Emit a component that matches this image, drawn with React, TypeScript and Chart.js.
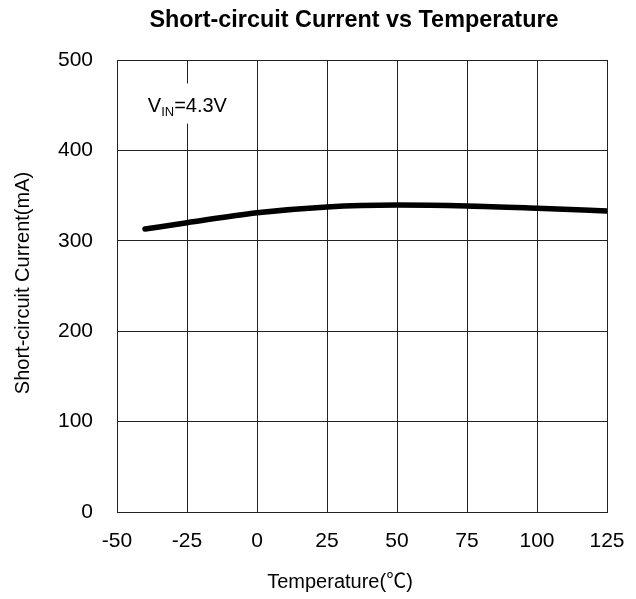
import React, { useEffect, useRef } from "react";
import { Chart, registerables } from "chart.js";

Chart.register(...registerables);

const temperatures = [-40, -25, 0, 25, 50, 75, 100, 125];
const currents = [313, 320, 331, 337.5, 339.5, 338.5, 336, 333];
const xTicks = [-50, -25, 0, 25, 50, 75, 100, 125];
const yTicks = [0, 100, 200, 300, 400, 500];

const TITLE = "Short-circuit Current vs Temperature";
const X_TITLE = "Temperature(\u2103)";
const Y_TITLE = "Short-circuit Current(mA)";
const NOTE_MAIN = "V";
const NOTE_SUB = "IN";
const NOTE_REST = "=4.3V";
const NOTE_AT = { x: -39, y: 443 };

const SANS = "'Liberation Sans', Arial, 'Noto Sans CJK SC', sans-serif";

const textPlugin = {
  id: "texts",
  afterDraw(chart: any) {
    const { ctx, chartArea, scales } = chart;
    const cx = (chartArea.left + chartArea.right) / 2;
    const cy = (chartArea.top + chartArea.bottom) / 2;
    ctx.save();
    ctx.fillStyle = "#000";
    // title
    ctx.save();
    ctx.font = "bold 24px " + SANS;
    ctx.textAlign = "center";
    ctx.textBaseline = "alphabetic";
    ctx.translate(cx - 8, chartArea.top - 33);
    ctx.scale(0.975, 1);
    ctx.fillText(TITLE, 0, 0);
    ctx.restore();
    // x title
    ctx.font = "20px " + SANS;
    ctx.textAlign = "center";
    ctx.textBaseline = "middle";
    ctx.fillText(X_TITLE, cx - 22, chartArea.bottom + 70);
    // y title
    ctx.save();
    ctx.translate(chartArea.left - 94, cy - 3);
    ctx.rotate(-Math.PI / 2);
    ctx.fillText(Y_TITLE, 0, 0);
    ctx.restore();
    // note
    const nx = scales.x.getPixelForValue(NOTE_AT.x);
    const ny = scales.y.getPixelForValue(NOTE_AT.y);
    ctx.font = "20px " + SANS;
    const w1 = ctx.measureText(NOTE_MAIN).width;
    ctx.font = "13px " + SANS;
    const w2 = ctx.measureText(NOTE_SUB).width;
    ctx.font = "20px " + SANS;
    const w3 = ctx.measureText(NOTE_REST).width;
    ctx.fillStyle = "#fff";
    ctx.fillRect(nx - 6, ny - 28, w1 + w2 + w3 + 12, 40);
    ctx.fillStyle = "#000";
    ctx.textAlign = "left";
    ctx.textBaseline = "alphabetic";
    ctx.fillText(NOTE_MAIN, nx, ny);
    ctx.font = "13px " + SANS;
    ctx.fillText(NOTE_SUB, nx + w1, ny + 4);
    ctx.font = "20px " + SANS;
    ctx.fillText(NOTE_REST, nx + w1 + w2, ny);
    ctx.restore();
  },
};

export default function App() {
  const ref = useRef<HTMLCanvasElement>(null);
  useEffect(() => {
    if (!ref.current) return;
    const chart = new Chart(ref.current, {
      type: "line",
      data: {
        datasets: [
          {
            data: temperatures.map((t, i) => ({ x: t, y: currents[i] })),
            borderColor: "#000",
            borderWidth: 5.5,
            borderCapStyle: "round",
            pointRadius: 0,
            cubicInterpolationMode: "monotone",
            fill: false,
          },
        ],
      },
      options: {
        animation: false,
        responsive: false,
        layout: { padding: { top: 60, right: 29, bottom: 0, left: 0 } },
        plugins: { legend: { display: false }, title: { display: false }, tooltip: { enabled: false } },
        scales: {
          x: {
            type: "linear",
            min: -50,
            max: 125,
            afterFit: (s: any) => {
              s.height = 87;
              s.paddingLeft = 0;
              s.paddingRight = 0;
            },
            afterBuildTicks: (s: any) => { s.ticks = xTicks.map((v) => ({ value: v })); },
            grid: { color: "#222", lineWidth: 1, drawTicks: false },
            border: { color: "#222", width: 1 },
            ticks: { color: "#000", padding: 17, font: { family: SANS, size: 21 } },
          },
          y: {
            type: "linear",
            min: 0,
            max: 500,
            afterFit: (s: any) => {
              s.width = 117;
              s.paddingTop = 0;
              s.paddingBottom = 0;
            },
            afterBuildTicks: (s: any) => { s.ticks = yTicks.map((v) => ({ value: v })); },
            grid: { color: "#222", lineWidth: 1, drawTicks: false },
            border: { color: "#222", width: 1 },
            ticks: { color: "#000", padding: 24, font: { family: SANS, size: 21 } },
          },
        },
      },
      plugins: [textPlugin],
    } as any);
    return () => chart.destroy();
  }, []);
  return (
    <div style={{ position: "fixed", left: 0, top: 0, width: 636, height: 599, background: "#fff" }}>
      <canvas ref={ref} width={636} height={599} />
    </div>
  );
}
